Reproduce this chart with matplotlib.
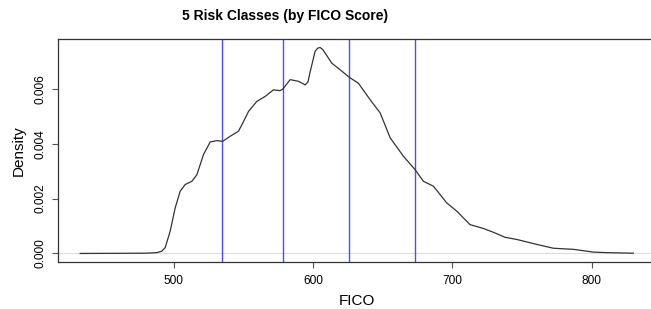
import matplotlib
matplotlib.use("Agg")
from matplotlib import pyplot as plt

# density curve
fico = [433, 460, 480, 488, 491.5, 494, 497.6, 501.2, 504.8, 508.4, 513.2,
        516.8, 521.5, 526.3, 531.1, 535.2, 540.7, 546.6, 550, 553.8, 559.8,
        565.8, 571.7, 576.5, 578.5, 583.7, 589.7, 594.5, 596.5, 598, 601.6,
        603.5, 605.2, 607, 608.8, 613.6, 619.6, 626.3, 632.7, 641.1, 648.3,
        655.5, 665, 673.4, 679.3, 686.5, 696.1, 703.3, 712.8, 722.4, 729.6,
        737.9, 746.3, 760.7, 772.6, 787, 801.3, 810.9, 830]
density = [0.0, 0.000005, 0.00001, 0.00003, 0.00008, 0.00021, 0.00081,
           0.00166, 0.00227, 0.00251, 0.00263, 0.00287, 0.0036, 0.00406,
           0.00411, 0.00408, 0.00427, 0.00445, 0.00478, 0.00517, 0.00554,
           0.00572, 0.00596, 0.00593, 0.00599, 0.00633, 0.00627, 0.00614,
           0.00625, 0.0066, 0.00736, 0.00748, 0.0075, 0.00743, 0.0073,
           0.00693, 0.00669, 0.00641, 0.0062, 0.0056, 0.00512, 0.00421,
           0.00354, 0.00305, 0.00263, 0.00245, 0.00184, 0.00154, 0.00105,
           0.00091, 0.00077, 0.00059, 0.00051, 0.00033, 0.00019, 0.00015,
           0.00005, 0.00003, 0.00001]

# class boundaries
cuts = [535, 578.5, 626, 673]

x_ticks = [500, 600, 700, 800]
y_ticks = [0.000, 0.002, 0.004, 0.006]

plt.rcParams["font.family"] = ["Liberation Sans", "DejaVu Sans"]

fig = plt.figure(figsize=(6.51, 3.09), dpi=100)
ax = fig.add_axes([58 / 651, 47.3 / 309, 597.5 / 651, 222.4 / 309])

ax.axhline(0, color="#dddddd", lw=0.8, zorder=1)
for c in cuts:
    ax.axvline(c, color="#4d4dff", lw=1.0, zorder=2)
ax.plot(fico, density, color="#333333", lw=0.9, zorder=3)

ax.set_xlim(417.1, 845.9)
ax.set_ylim(-0.0003, 0.0078)
ax.set_xticks(x_ticks)
ax.set_xticklabels([str(t) for t in x_ticks])
ax.set_yticks(y_ticks)
ax.set_yticklabels(["%.3f" % t for t in y_ticks], rotation=90, va="center")

for s in ax.spines.values():
    s.set_color("#333333")
    s.set_linewidth(0.9)

ax.tick_params(axis="both", direction="out", length=4.3, width=0.8,
               color="#555555", labelsize=8.6)
ax.tick_params(axis="x", pad=5)
ax.tick_params(axis="y", pad=4)

ax.set_xlabel("FICO", fontsize=11, labelpad=5)
ax.set_ylabel("Density", fontsize=11, labelpad=6)

fig.text(285 / 651, 1 - 16 / 309, "5 Risk Classes (by FICO Score)",
         ha="center", va="center", fontsize=10, fontweight="bold")

fig.savefig("out.png", dpi=100)
